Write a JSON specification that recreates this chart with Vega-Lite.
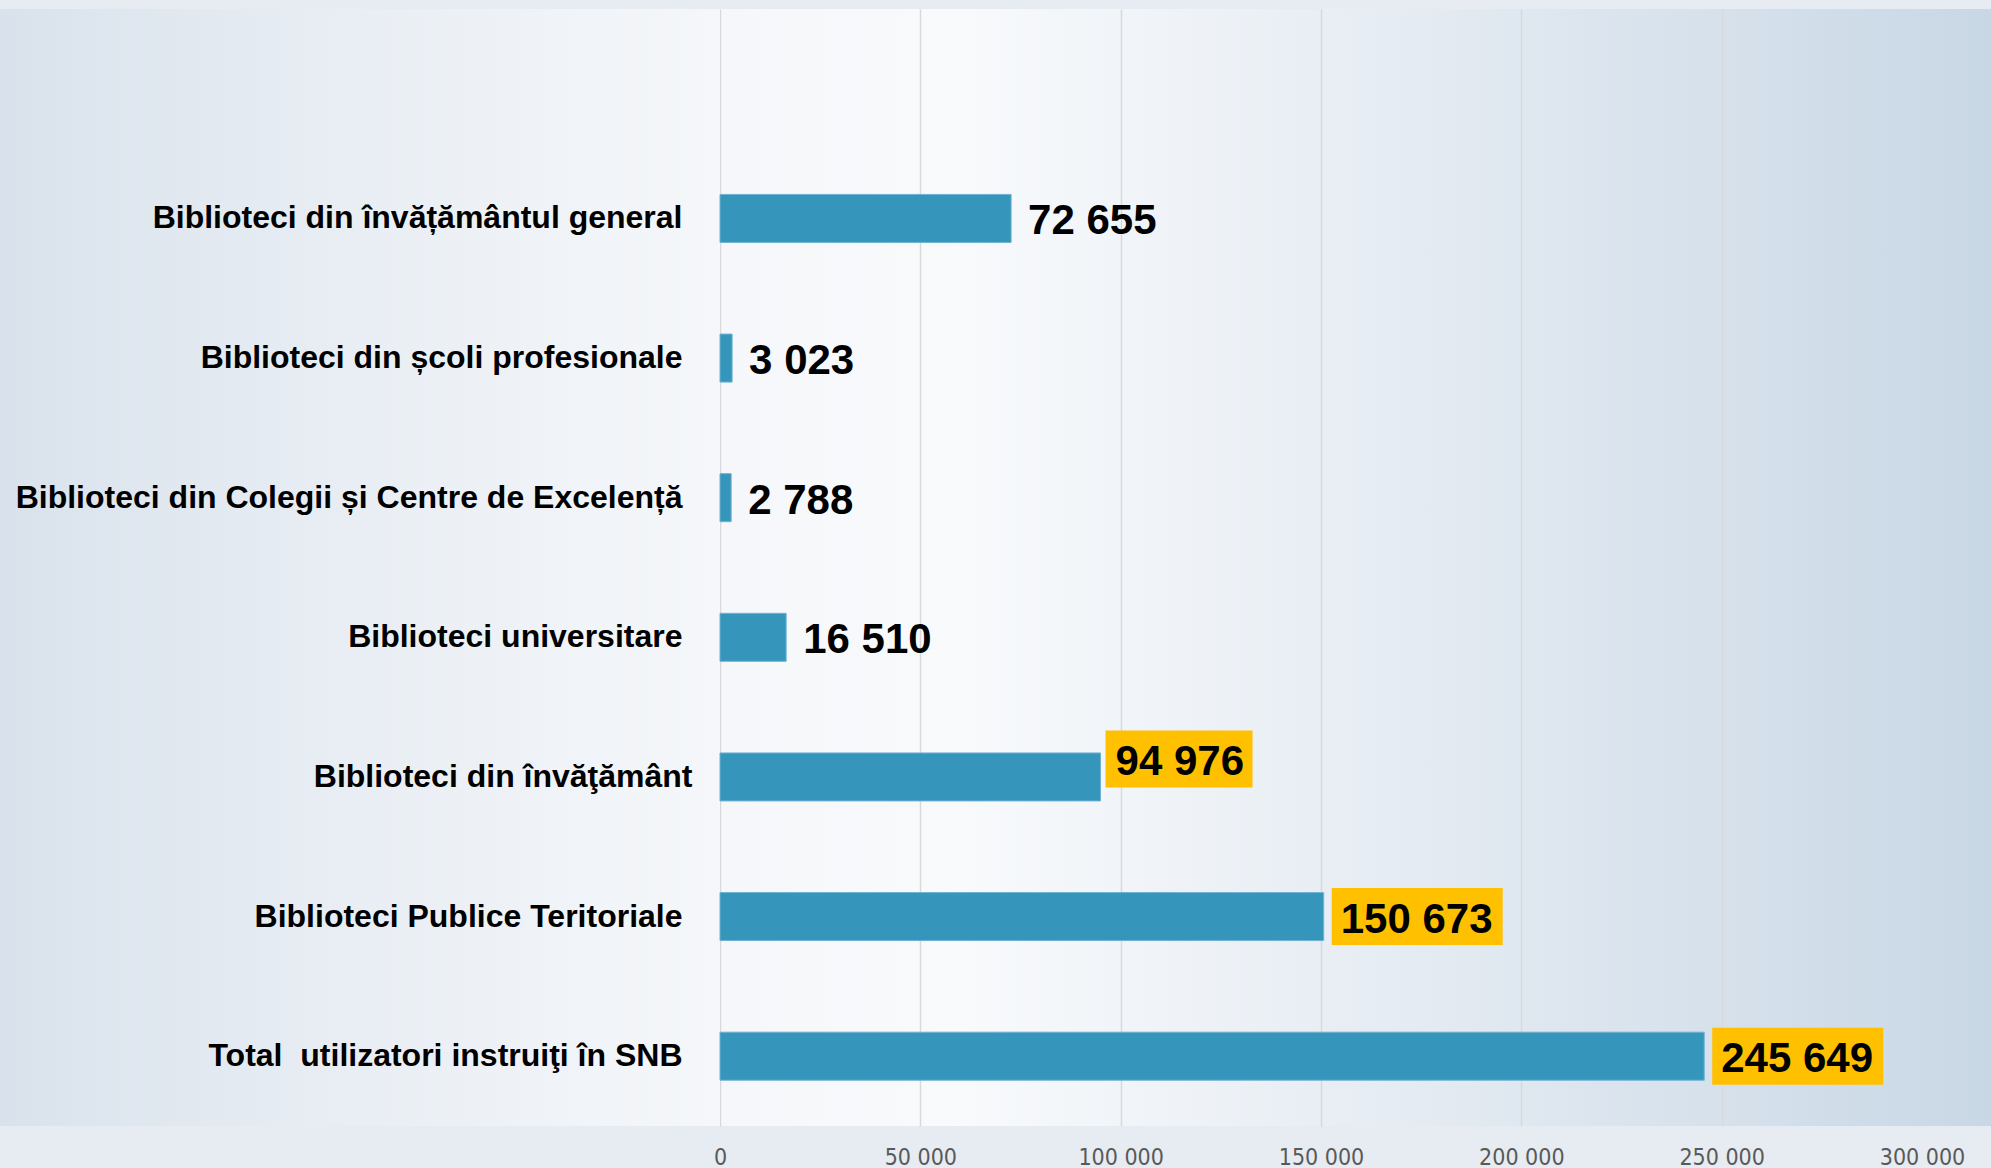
{
  "$schema": "https://vega.github.io/schema/vega-lite/v6.json",
  "autosize": {"type": "none"},
  "width": 1202,
  "height": 1117,
  "padding": {"left": 720, "top": 9, "right": 69, "bottom": 42},
  "background": "#E6ECF2",
  "view": {
    "stroke": null,
    "fill": {
      "gradient": "linear", "x1": 0, "y1": 0, "x2": 1, "y2": 0,
      "stops": [
        {"offset": 0, "color": "#F5F7FA"},
        {"offset": 0.2, "color": "#F8FAFC"},
        {"offset": 0.55, "color": "#E6ECF3"},
        {"offset": 1, "color": "#CCDAE7"}
      ]
    }
  },
  "config": {
    "locale": {"number": {"decimal": ",", "thousands": " ", "grouping": [3], "currency": ["", ""]}}
  },
  "data": {
    "values": [
      {"categorie": "Biblioteci din învățământul general", "utilizatori": 72655, "agregat": false},
      {"categorie": "Biblioteci din școli profesionale", "utilizatori": 3023, "agregat": false},
      {"categorie": "Biblioteci din Colegii și Centre de Excelență", "utilizatori": 2788, "agregat": false},
      {"categorie": "Biblioteci universitare", "utilizatori": 16510, "agregat": false},
      {"categorie": "Biblioteci din învăţământ", "utilizatori": 94976, "agregat": true},
      {"categorie": "Biblioteci Publice Teritoriale", "utilizatori": 150673, "agregat": true},
      {"categorie": "Total \u00a0utilizatori instruiţi în SNB", "utilizatori": 245649, "agregat": true}
    ]
  },
  "layer": [
    {
      "transform": [{"aggregate": [{"op": "count", "as": "n"}]}],
      "mark": {
        "type": "rect",
        "fill": {
          "gradient": "linear", "x1": 0, "y1": 0, "x2": 1, "y2": 0,
          "stops": [
            {"offset": 0, "color": "#D9E2EC"},
            {"offset": 0.5, "color": "#E9EEF4"},
            {"offset": 1, "color": "#F5F7FA"}
          ]
        }
      },
      "encoding": {
        "x": {"datum": -180000, "type": "quantitative"},
        "x2": {"datum": 0}
      }
    },
    {
      "transform": [{"aggregate": [{"op": "count", "as": "n"}]}],
      "mark": {
        "type": "rect",
        "fill": {
          "gradient": "linear", "x1": 0, "y1": 0, "x2": 1, "y2": 0,
          "stops": [
            {"offset": 0, "color": "#CCDAE7"},
            {"offset": 1, "color": "#C8D7E5"}
          ]
        }
      },
      "encoding": {
        "x": {"datum": 300000, "type": "quantitative"},
        "x2": {"datum": 320000}
      }
    },
    {
      "mark": {"type": "bar", "color": "#3595BB", "stroke": "#6FB3D2", "strokeWidth": 1},
      "encoding": {
        "y": {
          "field": "categorie", "type": "nominal",
          "scale": {
            "domain": [" ", "Biblioteci din învățământul general", "Biblioteci din școli profesionale", "Biblioteci din Colegii și Centre de Excelență", "Biblioteci universitare", "Biblioteci din învăţământ", "Biblioteci Publice Teritoriale", "Total \u00a0utilizatori instruiţi în SNB"],
            "paddingInner": 0.656, "paddingOuter": 0.328
          },
          "axis": {
            "title": null, "domain": false, "ticks": false, "zindex": 1,
            "labelFont": "Liberation Sans", "labelFontSize": 32, "labelFontWeight": "bold",
            "labelColor": "#000000", "labelLimit": 1000,
            "labelPadding": {"condition": {"test": "datum.value === 'Biblioteci din învăţământ'", "value": 28}, "value": 38}
          }
        },
        "x": {
          "field": "utilizatori", "type": "quantitative",
          "scale": {"domain": [0, 300000], "nice": false},
          "axis": {
            "title": null, "domain": false, "ticks": false,
            "values": [0, 50000, 100000, 150000, 200000, 250000, 300000],
            "format": ",d", "labelFlush": false, "labelOverlap": false,
            "grid": true, "gridColor": "#D9D9D9", "gridWidth": 1.5,
            "labelFont": "DejaVu Sans Condensed", "labelFontSize": 23,
            "labelColor": "#595959", "labelPadding": 20
          }
        }
      }
    },
    {
      "transform": [{"filter": "!datum.agregat"}],
      "mark": {"type": "text", "align": "left", "baseline": "middle", "dx": 17, "dy": 3, "font": "Liberation Sans", "fontSize": 42, "fontWeight": "bold", "color": "#000000"},
      "encoding": {
        "y": {"field": "categorie", "type": "nominal"},
        "x": {"field": "utilizatori", "type": "quantitative"},
        "text": {"field": "utilizatori", "type": "quantitative", "format": ",d"}
      }
    },
    {
      "transform": [{"filter": "datum.agregat && datum.utilizatori < 100000"}],
      "mark": {"type": "bar", "color": "#FFC000", "height": 57, "xOffset": 5, "x2Offset": 152, "yOffset": -18},
      "encoding": {
        "y": {"field": "categorie", "type": "nominal"},
        "x": {"field": "utilizatori", "type": "quantitative"},
        "x2": {"field": "utilizatori"}
      }
    },
    {
      "transform": [{"filter": "datum.agregat && datum.utilizatori >= 100000"}],
      "mark": {"type": "bar", "color": "#FFC000", "height": 57, "xOffset": 8, "x2Offset": 179},
      "encoding": {
        "y": {"field": "categorie", "type": "nominal"},
        "x": {"field": "utilizatori", "type": "quantitative"},
        "x2": {"field": "utilizatori"}
      }
    },
    {
      "transform": [{"filter": "datum.agregat && datum.utilizatori < 100000"}],
      "mark": {"type": "text", "align": "left", "baseline": "middle", "dx": 15, "dy": 3, "yOffset": -18, "font": "Liberation Sans", "fontSize": 42, "fontWeight": "bold", "color": "#000000"},
      "encoding": {
        "y": {"field": "categorie", "type": "nominal"},
        "x": {"field": "utilizatori", "type": "quantitative"},
        "text": {"field": "utilizatori", "type": "quantitative", "format": ",d"}
      }
    },
    {
      "transform": [{"filter": "datum.agregat && datum.utilizatori >= 100000"}],
      "mark": {"type": "text", "align": "left", "baseline": "middle", "dx": 17, "dy": 3, "font": "Liberation Sans", "fontSize": 42, "fontWeight": "bold", "color": "#000000"},
      "encoding": {
        "y": {"field": "categorie", "type": "nominal"},
        "x": {"field": "utilizatori", "type": "quantitative"},
        "text": {"field": "utilizatori", "type": "quantitative", "format": ",d"}
      }
    }
  ]
}
